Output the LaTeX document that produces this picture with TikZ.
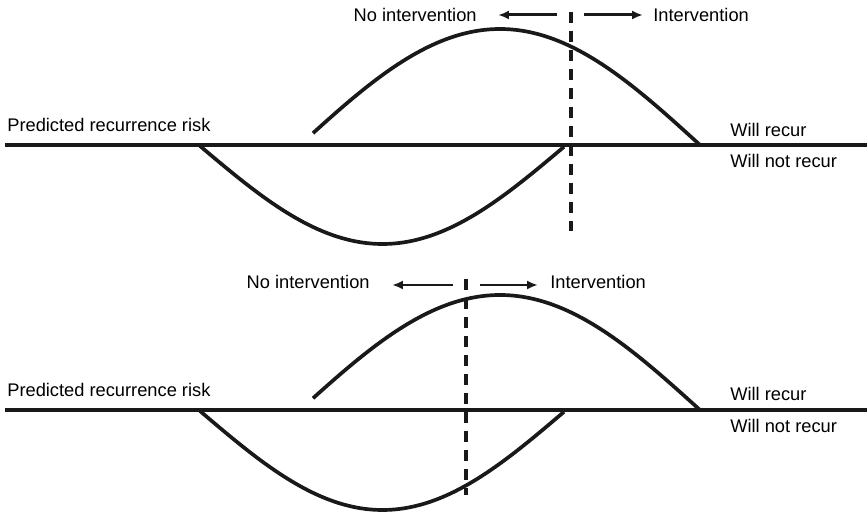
\documentclass[tikz,border=0pt]{standalone}
\usepackage{fontspec}
\setmainfont{Liberation Sans}
\usepackage{tikz}
\usetikzlibrary{arrows.meta, positioning, calc}

\begin{document}
\begin{tikzpicture}[
  x=0.02cm, y=-0.02cm,
  lbl/.style={inner sep=0pt, font=\fontsize{10.4}{12}\selectfont},
  axis/.style={line width=2.7pt, color=black!90},
  hump/.style={line width=2.1pt, smooth, color=black!90},
  cut/.style={line width=2.1pt, dash pattern=on 0.22cm off 0.16cm, color=black!90},
  arr/.style={-{Latex[length=2.2mm, width=1.8mm]}, line width=1.7pt, color=black!90}
]
\useasboundingbox (0,0) rectangle (867,516);

%% ── Panel A: cut-off to the right ───────────────────────────────────────
\draw[axis] (5,145) -- (867,145);
\node[lbl, anchor=base west] (predA) at (7,132) {Predicted recurrence risk};
\node[lbl, anchor=base west] (recurA)   at (730,137) {Will recur};
\node[lbl, anchor=base west] (norecurA) at (730,168) {Will not recur};

\draw[hump] plot[domain=313:700, samples=80] (\x, {145-116*sin(0.45*(\x-300))});
\draw[hump] plot[domain=200:564, samples=80] (\x, {146+98*sin(0.4932*(\x-200))});

\coordinate (cutAt) at (571,12);
\coordinate (cutAb) at (571,231);
\draw[cut] (cutAt) -- (cutAb);

\node[lbl, anchor=base east] (noIntA) at (477,22) {No intervention};
\node[lbl, anchor=base west] (intA)   at (653,22) {Intervention};
\coordinate (arrAl) at (557,15);
\coordinate (arrAr) at (584,15);
\draw[arr] (arrAl) -- ($(arrAl -| noIntA.east)+(21,0)$);
\draw[arr] (arrAr) -- ($(arrAr -| intA.west)+(-10,0)$);

%% ── Panel B: cut-off to the left ────────────────────────────────────────
\draw[axis] (5,410) -- (867,410);
\node[lbl, anchor=base west] (predB) at (7,397) {Predicted recurrence risk};
\node[lbl, anchor=base west] (recurB)   at (730,401) {Will recur};
\node[lbl, anchor=base west] (norecurB) at (730,433) {Will not recur};

\draw[hump] plot[domain=313:700, samples=80] (\x, {410-115*sin(0.45*(\x-300))});
\draw[hump] plot[domain=200:564, samples=80] (\x, {411+99*sin(0.4932*(\x-200))});

\coordinate (cutBt) at (466,279);
\coordinate (cutBb) at (466,495);
\draw[cut] (cutBt) -- (cutBb);

\node[lbl, anchor=base east] (noIntB) at (370,289) {No intervention};
\node[lbl, anchor=base west] (intB)   at (550,289) {Intervention};
\coordinate (arrBl) at (453,285);
\coordinate (arrBr) at (480,285);
\draw[arr] (arrBl) -- ($(arrBl -| noIntB.east)+(22,0)$);
\draw[arr] (arrBr) -- ($(arrBr -| intB.west)+(-12,0)$);

\end{tikzpicture}
\end{document}
